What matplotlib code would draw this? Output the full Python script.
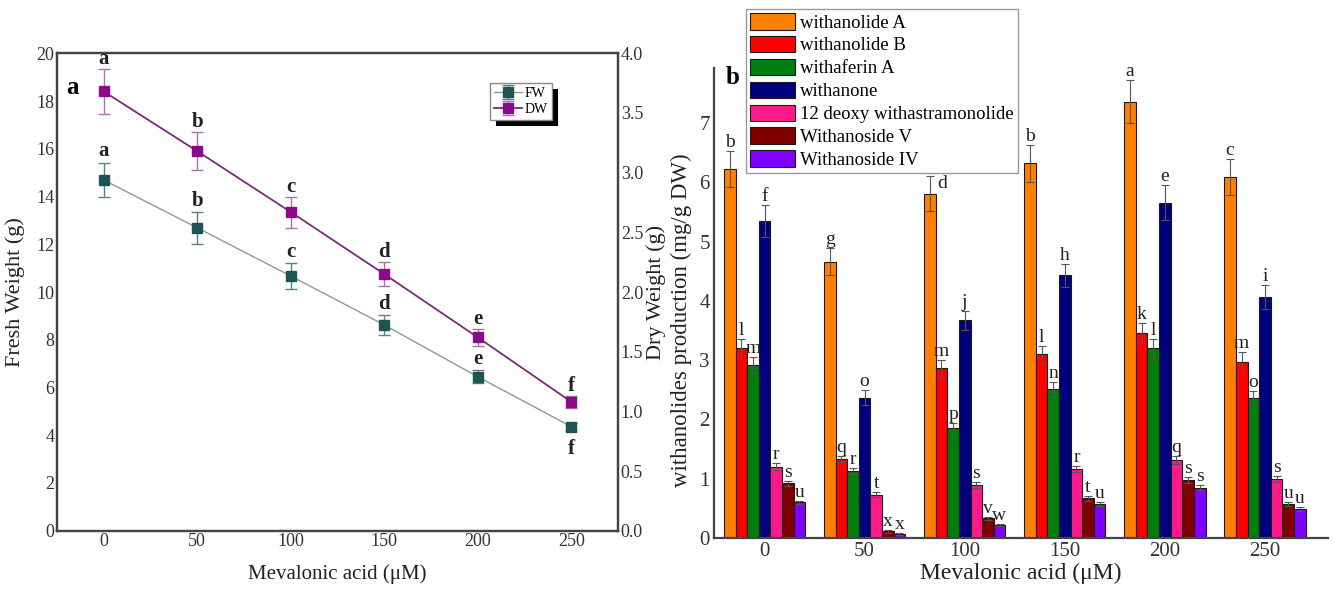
import matplotlib
matplotlib.use("Agg")
import matplotlib.pyplot as plt
import numpy as np
from matplotlib.patches import Rectangle

plt.rcParams['font.family'] = ['Liberation Serif', 'DejaVu Serif']
plt.rcParams['mathtext.fontset'] = 'stix'

# ---------------- data: panel a ----------------
conc = [0, 50, 100, 150, 200, 250]
fw = [14.69, 12.69, 10.67, 8.62, 6.45, 4.36]
fw_err = [0.72, 0.66, 0.53, 0.42, 0.28, 0.15]
dw = [3.68, 3.18, 2.67, 2.15, 1.62, 1.08]
dw_err = [0.19, 0.16, 0.13, 0.10, 0.07, 0.05]
fw_letters = ['a', 'b', 'c', 'd', 'e', 'f']
dw_letters = ['a', 'b', 'c', 'd', 'e', 'f']

# ---------------- data: panel b ----------------
groups = ['0', '50', '100', '150', '200', '250']
compounds = ['withanolide A', 'withanolide B', 'withaferin A', 'withanone',
             '12 deoxy withastramonolide', 'Withanoside V', 'Withanoside IV']
withanolide_A = [6.23, 4.66, 5.81, 6.32, 7.36, 6.09]
withanolide_B = [3.21, 1.33, 2.86, 3.10, 3.46, 2.97]
withaferin_A = [2.92, 1.13, 1.86, 2.51, 3.20, 2.37]
withanone = [5.35, 2.37, 3.67, 4.43, 5.66, 4.07]
deoxy_12 = [1.20, 0.73, 0.90, 1.17, 1.32, 0.99]
withanoside_V = [0.92, 0.11, 0.33, 0.67, 0.98, 0.57]
withanoside_IV = [0.60, 0.07, 0.22, 0.57, 0.85, 0.49]

err_A = [0.30, 0.23, 0.29, 0.31, 0.36, 0.30]
err_B = [0.15, 0.05, 0.14, 0.14, 0.17, 0.16]
err_fA = [0.14, 0.05, 0.08, 0.13, 0.16, 0.11]
err_none = [0.27, 0.13, 0.16, 0.20, 0.29, 0.20]
err_12 = [0.06, 0.04, 0.05, 0.05, 0.07, 0.05]
err_V = [0.05, 0.02, 0.03, 0.04, 0.05, 0.03]
err_IV = [0.03, 0.02, 0.02, 0.03, 0.04, 0.03]

letters_A = ['b', 'g', 'd', 'b', 'a', 'c']
letters_B = ['l', 'q', 'm', 'l', 'k', 'm']
letters_fA = ['m', 'r', 'p', 'n', 'l', 'o']
letters_none = ['f', 'o', 'j', 'h', 'e', 'i']
letters_12 = ['r', 't', 's', 'r', 'q', 's']
letters_V = ['s', 'x', 'v', 't', 's', 'u']
letters_IV = ['u', 'x', 'w', 'u', 's', 'u']

bar_colors = ['#FF8000', '#FF0000', '#007F0E', '#00007F', '#FF1A8C', '#7F0000', '#8000FF']

W, H = 1334, 592
fig = plt.figure(figsize=(W / 100, H / 100), dpi=100)

# ================= panel a =================
ax = fig.add_axes([57 / W, 1 - 530.7 / H, 561 / W, 477.4 / H])
ax2 = ax.twinx()
fw_col = '#1F5454'
dw_col = '#8B0A8B'
l1 = ax.errorbar(conc, fw, yerr=fw_err, color='#8A9A9A', lw=1.0, marker='s', ms=7,
                 mfc=fw_col, mec=fw_col, ecolor='#5F8080', elinewidth=1.0, capsize=4,
                 label='FW', zorder=3)
l2 = ax2.errorbar(conc, dw, yerr=dw_err, color='#7A2A7A', lw=1.3, marker='s', ms=7,
                  mfc=dw_col, mec=dw_col, ecolor='#B070B0', elinewidth=1.0, capsize=4,
                  label='DW', zorder=3)
ax.set_xlim(-25, 275)
ax.set_ylim(0, 20)
ax2.set_ylim(0, 4)
ax.set_xticks(conc)
ax.set_yticks(np.arange(0, 21, 2))
ax2.set_yticks(np.arange(0, 4.01, 0.5))
ax2.set_yticklabels([f'{v:.1f}' for v in np.arange(0, 4.01, 0.5)])
for a in (ax, ax2):
    a.tick_params(length=0, labelsize=13, pad=2, colors='#333333')
    for s in a.spines.values():
        s.set_linewidth(1.6)
        s.set_color('#444444')
ax.set_xlabel('Mevalonic acid (μM)', fontsize=15, labelpad=10, color='#222222')
ax.set_ylabel('Fresh Weight (g)', fontsize=16, labelpad=8, color='#222222')
ax2.set_ylabel('Dry Weight (g)', fontsize=16, labelpad=2, color='#222222')

for x, v, e, t in zip(conc, fw, fw_err, fw_letters):
    if t == 'f':
        ax.annotate(t, (x, v), xytext=(0, -9), textcoords='offset points',
                    ha='center', va='top', fontsize=15, fontweight='bold', color='#222222')
    else:
        ax.annotate(t, (x, v + e), xytext=(0, 1), textcoords='offset points',
                    ha='center', va='bottom', fontsize=15, fontweight='bold', color='#222222')
for x, v, e, t in zip(conc, dw, dw_err, dw_letters):
    ax2.annotate(t, (x, v + e), xytext=(0, 0), textcoords='offset points',
                 ha='center', va='bottom', fontsize=15, fontweight='bold', color='#222222')

ax.text(66, H - 87, 'a', transform=None, fontsize=18, fontweight='bold', ha='left', va='center')

leg1 = ax2.legend([l1, l2], ['FW', 'DW'], loc='upper right',
                  bbox_to_anchor=((552 - 57) / 561, (530.7 - 83) / 477.4),
                  fontsize=10, frameon=True, fancybox=False, edgecolor='#888888',
                  framealpha=1, handlelength=2.0, handletextpad=0.2, borderpad=0.3,
                  labelspacing=0.2, borderaxespad=0)
leg1.get_frame().set_linewidth(1.0)
leg1.set_zorder(6)

# ================= panel b =================
bx = fig.add_axes([714 / W, 1 - 538 / H, 614 / W, 470 / H])
series = [withanolide_A, withanolide_B, withaferin_A, withanone, deoxy_12, withanoside_V, withanoside_IV]
errs = [err_A, err_B, err_fA, err_none, err_12, err_V, err_IV]
lets = [letters_A, letters_B, letters_fA, letters_none, letters_12, letters_V, letters_IV]
x = np.arange(len(groups))
bw = 0.116
for i, (vals, er, lt, c, name) in enumerate(zip(series, errs, lets, bar_colors, compounds)):
    xs = x + (i - 3) * bw
    bx.bar(xs, vals, width=bw, color=c, edgecolor='#1a1a1a', linewidth=0.8, label=name, zorder=2)
    bx.errorbar(xs, vals, yerr=er, fmt='none', ecolor='#555555', elinewidth=0.8,
                capsize=3, capthick=0.8, zorder=3)
    for gi, (xx, v, e, t) in enumerate(zip(xs, vals, er, lt)):
        if i == 0 and gi == 2:
            # letter pushed below the legend, to the right of the bar
            bx.annotate(t, (xx, v + e), xytext=(9, 1), textcoords='offset points',
                        ha='center', va='top', fontsize=14, color='#222222', zorder=4)
        else:
            bx.annotate(t, (xx, v + e), xytext=(0, 0), textcoords='offset points',
                        ha='center', va='bottom', fontsize=14, color='#222222', zorder=4)

bx.set_xlim(-0.505, 5.63)
bx.set_ylim(0, 7.93)
bx.set_xticks(x)
bx.set_xticklabels(groups)
bx.set_yticks(np.arange(0, 8, 1))
bx.tick_params(length=0, labelsize=15, pad=3, colors='#333333')
bx.spines['top'].set_visible(False)
bx.spines['right'].set_visible(False)
for s in ('left', 'bottom'):
    bx.spines[s].set_linewidth(1.6)
    bx.spines[s].set_color('#444444')
bx.set_xlabel('Mevalonic acid (μM)', fontsize=17, labelpad=1, color='#222222')
bx.set_ylabel('withanolides production (mg/g DW)', fontsize=16.5, color='#222222')
bx.yaxis.set_label_coords(-0.036, 0.464)
bx.text(733, H - 78, 'b', transform=None, fontsize=18, fontweight='bold', ha='center', va='center')

leg2 = bx.legend(loc='upper left', bbox_to_anchor=(746 / W, 1 - 9 / H),
                 bbox_transform=fig.transFigure, fontsize=13.5, frameon=True, fancybox=False,
                 edgecolor='#999999', framealpha=1, handlelength=2.4, handleheight=1.0,
                 handletextpad=0.3, borderpad=0.2, labelspacing=0.22, borderaxespad=0)
leg2.get_frame().set_linewidth(1.0)
leg2.set_zorder(6)

# black shadow for legend of panel a
fig.canvas.draw()
bb = leg1.get_window_extent()
sh = Rectangle((bb.x0 + 6, bb.y0 - 6), bb.width, bb.height, transform=None,
               facecolor='black', edgecolor='none', zorder=5)
ax2.add_artist(sh)

fig.savefig('out.png', dpi=100)
